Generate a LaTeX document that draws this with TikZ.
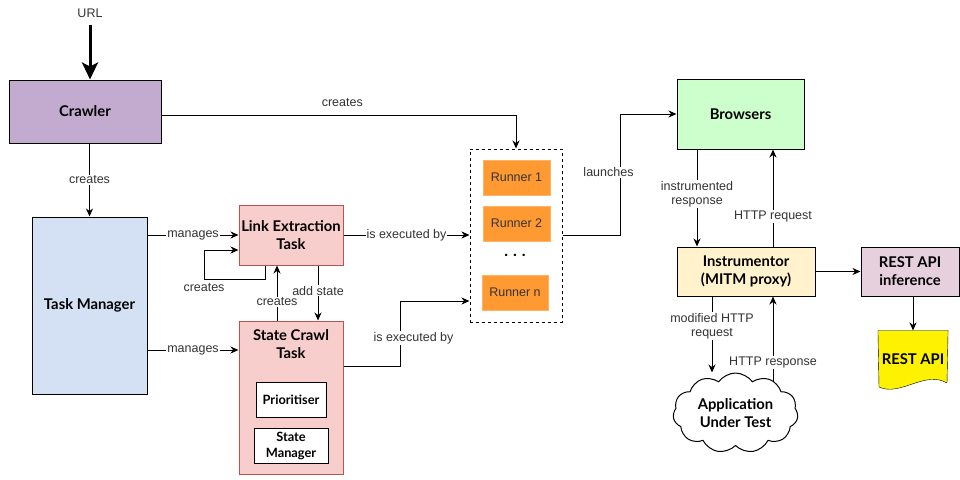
\documentclass[tikz,border=0pt]{standalone}
\usepackage{fontspec}
\setmainfont{Liberation Sans}
\newfontfamily\latofont{Lato}
\usetikzlibrary{arrows.meta,positioning,shapes.symbols,backgrounds}

\definecolor{crawlerfill}{HTML}{C3ABD0}
\definecolor{tmfill}{HTML}{D4E1F5}
\definecolor{taskfill}{HTML}{F8CECC}
\definecolor{taskdraw}{HTML}{B85450}
\definecolor{runnerfill}{HTML}{FF9A33}
\definecolor{runnerdraw}{HTML}{FFB366}
\definecolor{browserfill}{HTML}{CCFFCC}
\definecolor{instrfill}{HTML}{FFF2CC}
\definecolor{inffill}{HTML}{E6D0DE}
\definecolor{labelgray}{HTML}{333333}

\newcommand{\boldfont}{\latofont\bfseries\fontsize{14.8}{18}\selectfont}
\newcommand{\smallbold}{\latofont\bfseries\fontsize{12.8}{16}\selectfont}
\newcommand{\lblfont}{\fontsize{12.5}{14.5}\selectfont}

\begin{document}
\begin{tikzpicture}[x=1pt,y=-1pt,>={Stealth[length=8pt,width=7pt,inset=2.5pt]},line width=1pt,node distance=46pt,
	box/.style={draw=black,align=center,inner sep=2pt,font=\boldfont},
	task/.style={box,fill=taskfill,draw=taskdraw},
	inbox/.style={draw=black,fill=white,align=center,inner sep=2pt,font=\smallbold},
	runner/.style={fill=runnerfill,draw=runnerdraw,font=\lblfont,text=labelgray,minimum width=67pt,minimum height=35pt},
	group/.style={draw=black,dash pattern=on 3pt off 3pt},
	lbl/.style={font=\lblfont,text=labelgray,fill=white,inner sep=1pt,align=center}]
	\useasboundingbox (0,0) rectangle (960,479);

	% left column
	\node[lbl,fill=none] (url) at (90,13) {URL};
	\node[box,fill=crawlerfill,minimum width=152pt,minimum height=63pt] (crawler) at (85,111.5) {Crawler};
	\node[box,fill=tmfill,minimum width=115pt,minimum height=177pt] (tm) at (89.5,305.5) {Task Manager};

	% tasks
	\node[task,minimum width=104pt,minimum height=60pt] (let) at (291,235) {Link Extraction\\Task};
	\node[task,minimum width=104pt,minimum height=153pt,
		label={[font=\boldfont,align=center,anchor=north,yshift=-5pt]north:State Crawl\\Task}] (sct) at (291,397.5) {};
	\node[inbox,minimum width=70pt,minimum height=35pt] (prio) at (291,399.5) {Prioritiser};
	\node[inbox,minimum width=74pt,minimum height=35pt] (stman) at (291,445.5) {State\\Manager};

	% runners
	\node[group,minimum width=92pt,minimum height=173pt] (runners) at (516,235.5) {};
	\node[runner] (r1) at (516.5,177.5) {Runner 1};
	\node[runner] (r2) [below of=r1] {Runner 2};
	\node[font=\latofont\bfseries\fontsize{16}{18}\selectfont] (dots) at (515,255) {.\hspace{5pt}.\hspace{5pt}.};
	\node[runner,minimum width=66pt] (rn) at (515,292.5) {Runner n};

	% right side
	\node[box,fill=browserfill,minimum width=127pt,minimum height=70pt] (browsers) at (740.5,114) {Browsers};
	\node[box,fill=instrfill,minimum width=138pt,minimum height=49pt] (instr) at (746,271.5) {Instrumentor\\(MITM proxy)};
	\node[box,fill=inffill,minimum width=98pt,minimum height=49pt] (inf) at (910,271.5) {REST API\\inference};
	\node[font=\boldfont,minimum width=68pt,minimum height=57pt] (api) at (913,359.5) {REST API};
	\node[cloud,draw=black,fill=white,cloud puffs=11,cloud puff arc=110,cloud ignores aspect,
		minimum width=125pt,minimum height=80pt,align=center,font=\boldfont] (aut) at (735.5,413) {Application\\Under Test};

	\begin{scope}[on background layer]
		\filldraw[fill=yellow,draw=black] (api.north west) -- (api.north east) -- (947,383)
			.. controls (925,370) and (900,397) .. (879,387) -- cycle;
	\end{scope}

	% connectors
	\draw[line width=3pt,-{Stealth[length=17pt,width=16pt,inset=4pt]},shorten <=6pt] (url.south) -- (url.south |- crawler.north);
	\draw[->] ([yshift=-3.5pt]crawler.east) -| node[lbl,fill=none,above=7pt,pos=0.255] {creates} (runners.north);
	\draw[->] (crawler.south -| tm.north) -- node[lbl] {creates} (tm.north);
	\draw[->] (tm.east |- let.west) -- node[lbl] {manages} (let.west);
	\coordinate (m2) at ([yshift=-44.5pt]tm.east);
	\draw[->] (m2) -- node[lbl] {manages} (m2 -| sct.west);
	\draw[->] ([xshift=-26pt]let.south) -- ++(0,14) -- ++(-61,0) node[lbl,fill=none,below=2pt,pos=1] {creates}
		|- ([yshift=-15pt]let.west);
	\draw[->] ([xshift=-14pt]sct.north) -- node[lbl,pos=0.34] {creates} ([xshift=-14pt]let.south);
	\draw[->] ([xshift=27pt]let.south) -- node[lbl,pos=0.46] {add state} ([xshift=27pt]sct.north);
	\draw[->] (let.east) -- node[lbl] {is executed by} (let.east -| runners.west);
	\draw[->] ([yshift=31.5pt]sct.east) -- ++(57,0) |- node[lbl,pos=0.215,xshift=13pt] {is executed by}
		([yshift=-65.5pt]runners.west);
	\draw[->] (runners.east) -- ++(58,0) |- node[lbl,pos=0.26,xshift=-12pt] {launches} (browsers.west);

	\coordinate (ir) at ([xshift=-43.5pt]browsers.south);
	\draw[->] (ir) -- node[lbl,pos=0.46] {instrumented\\response} (ir |- instr.north);
	\coordinate (hq) at ([xshift=27pt]instr.north);
	\draw[->] (hq) -- node[lbl,pos=0.31] {HTTP request} (hq |- browsers.south);
	\draw[->] (instr.east) -- (inf.west);
	\draw[->] (inf.south -| api.north) -- (api.north);
	\coordinate (mr) at ([xshift=-34pt]instr.south);
	\draw[->] (mr) -- node[lbl,pos=0.39] {modified HTTP\\request} (mr |- aut.north);
	\coordinate (hs) at ([xshift=37.5pt,yshift=-9pt]aut.north);
	\draw[->] (hs) -- node[lbl,pos=0.22] {HTTP response} (hs |- instr.south);
\end{tikzpicture}
\end{document}
